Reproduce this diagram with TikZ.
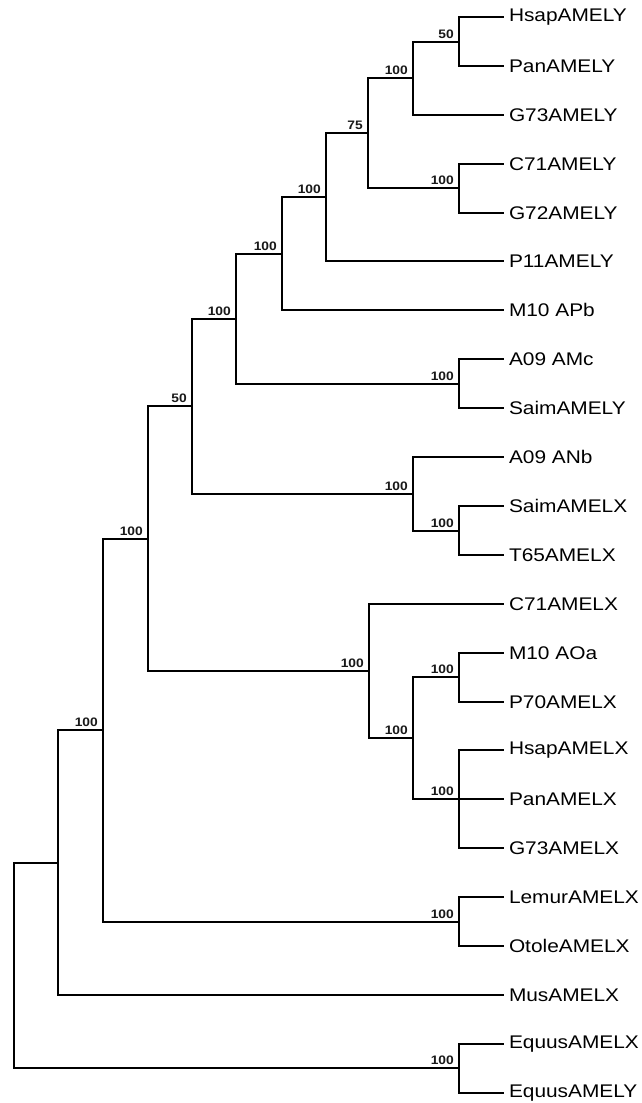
\documentclass[tikz,border=0pt]{standalone}
\usepackage{fontspec}
\newfontfamily\leaffont[FakeStretch=1.14]{Liberation Sans}
\newfontfamily\bsfont[FakeStretch=1.12]{Liberation Sans}
\begin{document}
\begin{tikzpicture}[x=1pt,y=-1pt,
  branch/.style={draw=black,line width=2pt,line cap=rect},
  leaf/.style={anchor=west,inner sep=0pt,outer sep=0pt,font=\leaffont\fontsize{18.3}{20}\selectfont,text=black},
  bslab/.style={anchor=south east,inner sep=0pt,font=\bsfont\bfseries\fontsize{12.3}{13}\selectfont,text=black!90}]
\useasboundingbox (0,0) rectangle (642,1103);
% leaves (line ends)
\def\lx{503}
\foreach \n/\t/\i in {
  l0/HsapAMELY/0, l1/PanAMELY/1, l2/G73AMELY/2, l3/C71AMELY/3, l4/G72AMELY/4,
  l5/P11AMELY/5, l6/M10 APb/6, l7/A09 AMc/7, l8/SaimAMELY/8, l9/A09 ANb/9,
  l10/SaimAMELX/10, l11/T65AMELX/11, l12/C71AMELX/12, l13/M10 AOa/13,
  l14/P70AMELX/14, l15/HsapAMELX/15, l16/PanAMELX/16, l17/G73AMELX/17,
  l18/LemurAMELX/18, l19/OtoleAMELX/19, l20/MusAMELX/20, l21/EquusAMELX/21,
  l22/EquusAMELY/22}{
  \pgfmathsetmacro\yy{round(17+48.9*\i)}
  \coordinate (\n) at (\lx,\yy);
  \node[leaf] (t\n) at (\lx+6,\yy) {\t};
}
% internal nodes
\coordinate (n50)  at (459,42);
\coordinate (na)   at (413,78);
\coordinate (nb)   at (459,188);
\coordinate (n75)  at (368,133);
\coordinate (nG)   at (326,197);
\coordinate (nF)   at (282,254);
\coordinate (nAMc) at (459,384);
\coordinate (nE)   at (236,319);
\coordinate (nc)   at (459,531);
\coordinate (nd)   at (413,494);
\coordinate (nD)   at (192,406);
\coordinate (ne)   at (459,677);
\coordinate (nf)   at (459,799);
\coordinate (ng)   at (413,738);
\coordinate (nh)   at (369,671);
\coordinate (nC)   at (148,539);
\coordinate (nL)   at (459,922);
\coordinate (nB)   at (103,730);
\coordinate (nA)   at (58,863);
\coordinate (nEq)  at (459,1068);
\coordinate (root) at (14,966);
% branches
\draw[branch] (n50) |- (l0) (n50) |- (l1);
\draw[branch] (na) |- (n50) (na) |- (l2);
\draw[branch] (nb) |- (l3) (nb) |- (l4);
\draw[branch] (n75) |- (na) (n75) |- (nb);
\draw[branch] (nG) |- (n75) (nG) |- (l5);
\draw[branch] (nF) |- (nG) (nF) |- (l6);
\draw[branch] (nAMc) |- (l7) (nAMc) |- (l8);
\draw[branch] (nE) |- (nF) (nE) |- (nAMc);
\draw[branch] (nc) |- (l10) (nc) |- (l11);
\draw[branch] (nd) |- (l9) (nd) |- (nc);
\draw[branch] (nD) |- (nE) (nD) |- (nd);
\draw[branch] (ne) |- (l13) (ne) |- (l14);
\draw[branch] (nf) |- (l15) (nf) |- (l16) (nf) |- (l17);
\draw[branch] (ng) |- (ne) (ng) |- (nf);
\draw[branch] (nh) |- (l12) (nh) |- (ng);
\draw[branch] (nC) |- (nD) (nC) |- (nh);
\draw[branch] (nL) |- (l18) (nL) |- (l19);
\draw[branch] (nB) |- (nC) (nB) |- (nL);
\draw[branch] (nA) |- (nB) (nA) |- (l20);
\draw[branch] (nEq) |- (l21) (nEq) |- (l22);
\draw[branch] (root) |- (nA) (root) |- (nEq);
% bootstrap values
\node[bslab] (b50)  at ([xshift=-5pt,yshift=3pt]n50) {50};
\node[bslab] (ba)   at ([xshift=-5pt,yshift=3pt]na) {100};
\node[bslab] (bb)   at ([xshift=-5pt,yshift=3pt]nb) {100};
\node[bslab] (b75)  at ([xshift=-5pt,yshift=3pt]n75) {75};
\node[bslab] (bG)   at ([xshift=-5pt,yshift=3pt]nG) {100};
\node[bslab] (bF)   at ([xshift=-5pt,yshift=3pt]nF) {100};
\node[bslab] (bAMc) at ([xshift=-5pt,yshift=3pt]nAMc) {100};
\node[bslab] (bE)   at ([xshift=-5pt,yshift=3pt]nE) {100};
\node[bslab] (bc)   at ([xshift=-5pt,yshift=3pt]nc) {100};
\node[bslab] (bd)   at ([xshift=-5pt,yshift=3pt]nd) {100};
\node[bslab] (bD)   at ([xshift=-5pt,yshift=3pt]nD) {50};
\node[bslab] (be)   at ([xshift=-5pt,yshift=3pt]ne) {100};
\node[bslab] (bf)   at ([xshift=-5pt,yshift=3pt]nf) {100};
\node[bslab] (bg)   at ([xshift=-5pt,yshift=3pt]ng) {100};
\node[bslab] (bh)   at ([xshift=-5pt,yshift=3pt]nh) {100};
\node[bslab] (bC)   at ([xshift=-5pt,yshift=3pt]nC) {100};
\node[bslab] (bL)   at ([xshift=-5pt,yshift=3pt]nL) {100};
\node[bslab] (bB)   at ([xshift=-5pt,yshift=3pt]nB) {100};
\node[bslab] (bEq)  at ([xshift=-5pt,yshift=3pt]nEq) {100};
\end{tikzpicture}
\end{document}
